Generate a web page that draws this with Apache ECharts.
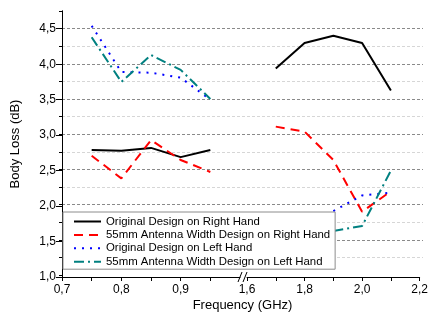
<!DOCTYPE html>
<html>
<head>
<meta charset="utf-8">
<script src="https://cdn.jsdelivr.net/npm/echarts@6/dist/echarts.min.js"></script>
<style>
    html, body { margin: 0; padding: 0; background: #fff; }
    #chart { width: 431px; height: 317px; }
</style>
</head>
<body>
<div id="chart"></div>
<script>
// 频率 (两段, 中间断开)
var leftFreq = [0.75, 0.8, 0.85, 0.9, 0.95];
var rightFreq = [1.7, 1.8, 1.9, 2.0, 2.1];

// Body Loss (dB)
var origRightL = [2.79, 2.78, 2.82, 2.69, 2.79];
var origRightR = [3.94, 4.30, 4.40, 4.30, 3.63];
var wideRightL = [2.71, 2.39, 2.93, 2.65, 2.48];
var wideRightR = [3.12, 3.05, 2.65, 1.92, 2.21];
var origLeftL = [4.54, 3.89, 3.88, 3.81, 3.50];
var origLeftR = [null, null, 1.93, 2.15, 2.19];
var wideLeftL = [4.38, 3.75, 4.13, 3.92, 3.51];
var wideLeftR = [null, null, 1.65, 1.72, 2.50];

// 刻度
var yTicks = [1.0, 1.5, 2.0, 2.5, 3.0, 3.5, 4.0, 4.5];
var leftTicks = [0.7, 0.75, 0.8, 0.85, 0.9, 0.95];
var leftLabels = [0.7, 0.8, 0.9];
var rightTicks = [1.6, 1.7, 1.8, 1.9, 2.0, 2.1, 2.2];
var rightLabels = [1.6, 1.8, 2.0, 2.2];

var names = [
    'Original Design on Right Hand',
    '55mm Antenna Width Design on Right Hand',
    'Original Design on Left Hand',
    '55mm Antenna Width Design on Left Hand'
];
var styles = [
    { color: '#000000', type: 'solid' },
    { color: '#ff0000', type: [9, 6] },
    { color: '#0000ff', type: [2, 6] },
    { color: '#008080', type: [10, 4, 2, 4] }
];

function pairs(xs, ys) {
    return xs.map(function (x, i) { return [x, ys[i]]; });
}
function comma(v) {
    return v.toFixed(1).replace('.', ',');
}

(function () {
    var myChart = echarts.init(document.getElementById('chart'));
    var font = "'Liberation Sans', Arial, sans-serif";

    var leftData = [origRightL, wideRightL, origLeftL, wideLeftL];
    var rightData = [origRightR, wideRightR, origLeftR, wideLeftR];
    var series = [];
    names.forEach(function (name, i) {
        [[1, leftFreq, leftData[i]], [2, rightFreq, rightData[i]]].forEach(function (s) {
            series.push({
                name: name,
                type: 'line',
                xAxisIndex: s[0],
                yAxisIndex: s[0],
                data: pairs(s[1], s[2]),
                symbol: 'none',
                connectNulls: false,
                color: styles[i].color,
                lineStyle: { color: styles[i].color, width: 2, type: styles[i].type }
            });
        });
    });

    var option = {
        animation: false,
        textStyle: { fontFamily: font },
        // 0: 背景网格线 + y轴, 1: 左段, 2: 右段
        grid: [
            { left: 62, right: 8, top: 11, bottom: 40 },
            { left: 62, width: 178, top: 11, bottom: 40 },
            { left: 247, right: 8, top: 11, bottom: 40 }
        ],
        legend: {
            orient: 'vertical',
            left: 63,
            top: 212,
            padding: [4, 5, 2, 10],
            itemGap: 2.4,
            itemWidth: 27,
            itemHeight: 12,
            itemStyle: { opacity: 0 },
            backgroundColor: '#fff',
            borderColor: '#8c8c8c',
            borderWidth: 1,
            borderRadius: 0,
            textStyle: { fontSize: 11.4, color: '#000', fontFamily: font },
            data: names
        },
        xAxis: [
            {
                gridIndex: 0, type: 'value', min: 0, max: 1,
                name: 'Frequency (GHz)', nameLocation: 'middle', nameGap: 24,
                nameTextStyle: { fontSize: 13, color: '#000', fontFamily: font },
                axisLine: { show: false }, axisTick: { show: false },
                axisLabel: { show: false }, splitLine: { show: false }
            },
            {
                gridIndex: 1, type: 'value', min: 0.7, max: 1.0,
                axisLine: { lineStyle: { color: '#000', width: 1 } },
                axisTick: { length: 4, customValues: leftTicks, lineStyle: { color: '#000' } },
                axisLabel: { customValues: leftLabels, formatter: comma, color: '#000', fontSize: 12, margin: 7 },
                splitLine: { show: false }
            },
            {
                gridIndex: 2, type: 'value', min: 1.6, max: 2.2,
                axisLine: { lineStyle: { color: '#000', width: 1 } },
                axisTick: { length: 4, customValues: rightTicks, lineStyle: { color: '#000' } },
                axisLabel: { customValues: rightLabels, formatter: comma, color: '#000', fontSize: 12, margin: 7 },
                splitLine: { show: false }
            }
        ],
        yAxis: [
            {
                gridIndex: 0, type: 'value', min: 1, max: 4.75, interval: 0.25,
                axisLine: { show: true, lineStyle: { color: '#000', width: 1 } },
                axisTick: { show: true, length: 3, lineStyle: { color: '#000' } },
                axisLabel: { show: false },
                splitLine: {
                    show: true, showMinLine: false, showMaxLine: false,
                    lineStyle: { color: ['#d6d6d6', '#8a8a8a'], type: [3, 2], width: 1 }
                }
            },
            {
                gridIndex: 1, type: 'value', min: 1, max: 4.75,
                name: 'Body Loss (dB)', nameLocation: 'middle', nameGap: 40,
                nameTextStyle: { fontSize: 13, color: '#000', fontFamily: font },
                axisLine: { show: true, lineStyle: { color: '#000', width: 1 } },
                axisTick: { show: true, length: 6, customValues: yTicks, lineStyle: { color: '#000' } },
                axisLabel: { customValues: yTicks, formatter: comma, color: '#000', fontSize: 12, margin: 6 },
                splitLine: { show: false }
            },
            {
                gridIndex: 2, type: 'value', min: 1, max: 4.75, show: false
            }
        ],
        // 坐标轴断开标记 //
        graphic: [
            { type: 'line', shape: { x1: 238, y1: 282, x2: 242, y2: 272 }, style: { stroke: '#000', lineWidth: 1 }, z: 10 },
            { type: 'line', shape: { x1: 243, y1: 282, x2: 247, y2: 272 }, style: { stroke: '#000', lineWidth: 1 }, z: 10 }
        ],
        series: series
    };
    myChart.setOption(option);
})();
</script>
</body>
</html>
